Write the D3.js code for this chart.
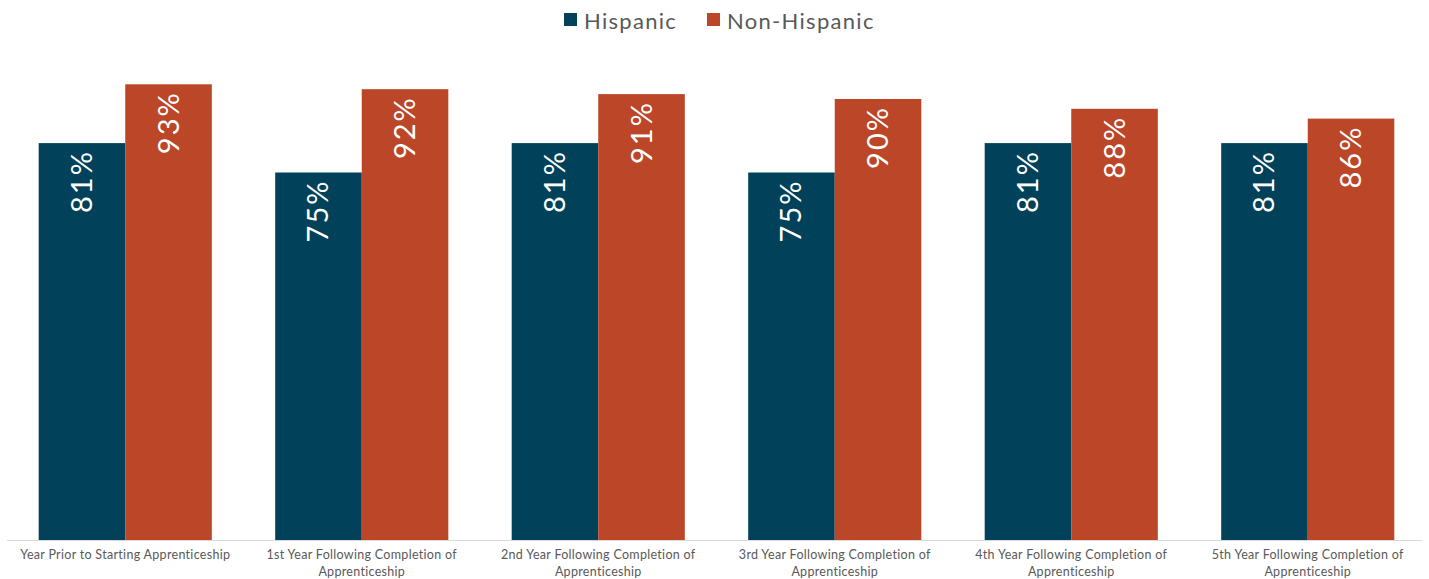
<!DOCTYPE html>
<html>
<head>
<meta charset="utf-8">
<script src="https://cdn.jsdelivr.net/npm/d3@7"></script>
<style>
  html, body { margin: 0; padding: 0; background: #fff; }
  svg { display: block; }
  text { font-family: "Lato", "Noto Sans", sans-serif; }
</style>
</head>
<body>
<svg id="chart" width="1429" height="579"></svg>
<script>
const categories = [
  "Year Prior to Starting Apprenticeship",
  "1st Year Following Completion of Apprenticeship",
  "2nd Year Following Completion of Apprenticeship",
  "3rd Year Following Completion of Apprenticeship",
  "4th Year Following Completion of Apprenticeship",
  "5th Year Following Completion of Apprenticeship"
];
const seriesNames = ["Hispanic", "Non-Hispanic"];
const hispanic = [0.81, 0.75, 0.81, 0.75, 0.81, 0.81];
const nonHispanic = [0.93, 0.92, 0.91, 0.90, 0.88, 0.86];
const colors = ["#01425A", "#BC4628"];

const svg = d3.select("#chart");
const W = 1429, H = 579;
const margin = { left: 7, right: 3, top: 50, bottom: 39 };
const baseY = H - margin.bottom; // 540

const x0 = d3.scaleBand().domain(categories).range([margin.left, W - margin.right]).paddingInner(0.268).paddingOuter(0.134);
const x1 = d3.scaleBand().domain(seriesNames).range([0, x0.bandwidth()]).padding(0);
const y = d3.scaleLinear().domain([0, 1]).range([baseY, margin.top]);
const color = d3.scaleOrdinal().domain(seriesNames).range(colors);

const rows = categories.map((c, i) => ({ cat: c, values: [
  { key: seriesNames[0], v: hispanic[i] },
  { key: seriesNames[1], v: nonHispanic[i] }
]}));

// bars
const g = svg.append("g");
const groups = g.selectAll("g.grp").data(rows).join("g")
  .attr("class", "grp")
  .attr("transform", d => `translate(${x0(d.cat)},0)`);

groups.selectAll("rect").data(d => d.values).join("rect")
  .attr("x", d => x1(d.key))
  .attr("y", d => y(d.v))
  .attr("width", x1.bandwidth())
  .attr("height", d => y(0) - y(d.v))
  .attr("fill", d => color(d.key));

groups.selectAll("text.lbl").data(d => d.values).join("text")
  .attr("class", "lbl")
  .attr("transform", d => `translate(${x1(d.key) + x1.bandwidth() / 2 + 10},${y(d.v) + 7}) rotate(-90)`)
  .attr("text-anchor", "end")
  .attr("fill", "#ffffff")
  .style("font-size", "29px")
  .style("letter-spacing", "2px")
  .text(d => Math.round(d.v * 100) + "%");

// axis
const xAxis = d3.axisBottom(x0).tickSize(0).tickPadding(10);
const ax = svg.append("g").attr("transform", `translate(0,${baseY})`).call(xAxis);
ax.select(".domain").attr("stroke", "#D9D9D9").attr("stroke-width", 1.2)
  .attr("d", `M${margin.left},0.5H${W - margin.right - 4}`);
ax.selectAll(".tick text")
  .attr("fill", "#595959")
  .style("font-size", "12.5px")
  .style("letter-spacing", "0.3px")
  .call(wrap, 225);

function wrap(sel, width) {
  sel.each(function() {
    const t = d3.select(this);
    const words = t.text().split(/\s+/);
    const yv = t.attr("y");
    t.text(null);
    let line = [];
    let lineNo = 0;
    let tspan = t.append("tspan").attr("x", 0).attr("y", yv).attr("dy", "0.71em");
    for (const w of words) {
      line.push(w);
      tspan.text(line.join(" "));
      if (tspan.node().getComputedTextLength() > width && line.length > 1) {
        line.pop();
        tspan.text(line.join(" "));
        line = [w];
        lineNo++;
        tspan = t.append("tspan").attr("x", 0).attr("y", yv).attr("dy", (0.71 + lineNo * 1.35) + "em").text(w);
      }
    }
  });
}

// legend
const legend = svg.append("g");
const items = [
  { key: seriesNames[0], x: 564, tx: 584 },
  { key: seriesNames[1], x: 707, tx: 727 }
];
items.forEach(it => {
  legend.append("rect").attr("x", it.x).attr("y", 13).attr("width", 13).attr("height", 13).attr("fill", color(it.key));
  legend.append("text").attr("x", it.tx).attr("y", 29).attr("fill", "#595959")
    .style("font-size", "22px").style("letter-spacing", "1.3px").text(it.key);
});
</script>
</body>
</html>
